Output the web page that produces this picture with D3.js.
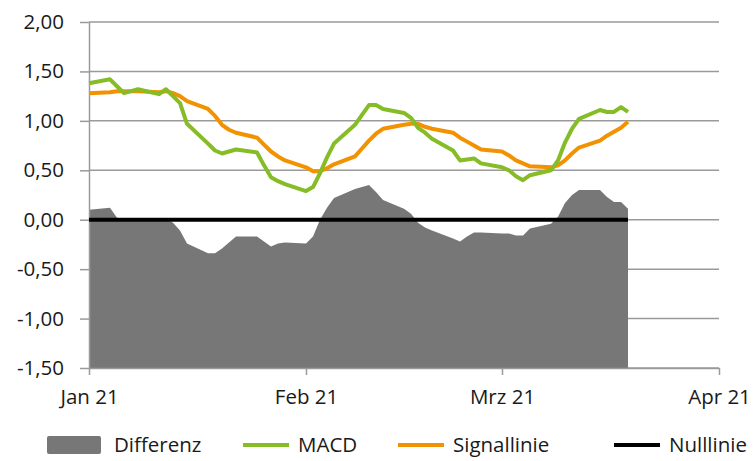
<!DOCTYPE html>
<html>
<head>
<meta charset="utf-8">
<script src="https://cdn.jsdelivr.net/npm/d3@7"></script>
<style>
  body { margin: 0; background: #fff; }
  svg text { font-family: "Open Sans", "Noto Sans", sans-serif; fill: #1a1a1a; }
</style>
</head>
<body>
<svg id="chart" width="753" height="461"></svg>
<script>

// trading days shown on the chart
const dates = [
  "2021-01-01","2021-01-04","2021-01-05","2021-01-06","2021-01-07","2021-01-08",
  "2021-01-11","2021-01-12","2021-01-13","2021-01-14","2021-01-15",
  "2021-01-18","2021-01-19","2021-01-20","2021-01-21","2021-01-22",
  "2021-01-25","2021-01-26","2021-01-27","2021-01-28","2021-01-29",
  "2021-02-01","2021-02-02","2021-02-03","2021-02-04","2021-02-05",
  "2021-02-08","2021-02-09","2021-02-10","2021-02-11","2021-02-12",
  "2021-02-15","2021-02-16","2021-02-17","2021-02-18","2021-02-19",
  "2021-02-22","2021-02-23","2021-02-24","2021-02-25","2021-02-26",
  "2021-03-01","2021-03-02","2021-03-03","2021-03-04","2021-03-05",
  "2021-03-08","2021-03-09","2021-03-10","2021-03-11","2021-03-12",
  "2021-03-15","2021-03-16","2021-03-17","2021-03-18","2021-03-19"
];

const macd = [
  1.38, 1.42, 1.35, 1.28, 1.30, 1.32,
  1.27, 1.32, 1.25, 1.18, 0.97,
  0.77, 0.70, 0.67, 0.69, 0.71,
  0.68, 0.55, 0.43, 0.39, 0.36,
  0.29, 0.33, 0.47, 0.63, 0.77,
  0.96, 1.06, 1.16, 1.16, 1.12,
  1.08, 1.03, 0.93, 0.88, 0.82,
  0.70, 0.60, 0.61, 0.62, 0.57,
  0.53, 0.50, 0.44, 0.40, 0.45,
  0.50, 0.60, 0.78, 0.92, 1.02,
  1.11, 1.09, 1.09, 1.14, 1.09
];

const signal = [
  1.28, 1.29, 1.30, 1.30, 1.30, 1.30,
  1.29, 1.30, 1.28, 1.25, 1.20,
  1.12, 1.05, 0.96, 0.91, 0.88,
  0.83, 0.76, 0.69, 0.64, 0.60,
  0.53, 0.49, 0.49, 0.52, 0.56,
  0.64, 0.72, 0.80, 0.87, 0.92,
  0.96, 0.97, 0.97, 0.94, 0.92,
  0.88, 0.83, 0.79, 0.75, 0.71,
  0.69, 0.65, 0.60, 0.57, 0.54,
  0.53, 0.55, 0.60, 0.67, 0.73,
  0.80, 0.85, 0.89, 0.93, 0.99
];

const differenz = [
  0.10, 0.12, 0.02, 0.00, 0.00, 0.01,
  -0.01, 0.01, -0.03, -0.11, -0.24,
  -0.34, -0.34, -0.29, -0.23, -0.17,
  -0.17, -0.22, -0.27, -0.24, -0.23,
  -0.24, -0.17, 0.00, 0.12, 0.22,
  0.31, 0.33, 0.35, 0.28, 0.20,
  0.11, 0.06, -0.03, -0.08, -0.11,
  -0.19, -0.22, -0.17, -0.13, -0.13,
  -0.14, -0.14, -0.16, -0.16, -0.09,
  -0.04, 0.03, 0.17, 0.25, 0.30,
  0.30, 0.23, 0.18, 0.18, 0.11
];

const xTicks = ["2021-01-01", "2021-02-01", "2021-03-01", "2021-04-01"];
const xTickLabels = ["Jan 21", "Feb 21", "Mrz 21", "Apr 21"];
const yTicks = [-1.5, -1.0, -0.5, 0, 0.5, 1.0, 1.5, 2.0];

const legendItems = ["Differenz", "MACD", "Signallinie", "Nulllinie"];

const colors = { diff: "#777777", macd: "#86bc25", signal: "#f39200", zero: "#000000", grid: "#9a9a9a" };
const fontSize = 20.5;

const parse = d3.timeParse("%Y-%m-%d");
const rows = dates.map((d, i) => ({ date: parse(d), macd: macd[i], signal: signal[i], diff: differenz[i] }));

const svg = d3.select("#chart");

const plotLeft = 89, plotRight = 719, plotTop = 22, plotBottom = 368;

const x = d3.scaleTime()
  .domain([parse(xTicks[0]), parse(xTicks[xTicks.length - 1])])
  .range([plotLeft, plotRight]);

const y = d3.scaleLinear()
  .domain([-1.5, 2.0])
  .range([plotBottom, plotTop]);

const de = d3.formatLocale({ decimal: ",", thousands: ".", grouping: [3], currency: ["", " €"], minus: "-" });
const fmt = de.format(".2f");

// horizontal gridlines
svg.append("g")
  .selectAll("line")
  .data(yTicks)
  .join("line")
    .attr("x1", plotLeft).attr("x2", plotRight)
    .attr("y1", d => y(d)).attr("y2", d => y(d))
    .attr("stroke", colors.grid)
    .attr("stroke-width", 1.5);

// Differenz area
const area = d3.area()
  .x(d => x(d.date))
  .y0(y(-1.5))
  .y1(d => y(d.diff));

svg.append("path")
  .datum(rows)
  .attr("d", area)
  .attr("fill", colors.diff);

// y axis
const yAxis = svg.append("g")
  .attr("transform", `translate(${plotLeft},0)`)
  .call(d3.axisLeft(y).tickValues(yTicks).tickFormat(fmt).tickSize(9).tickSizeOuter(0).tickPadding(16));
yAxis.select(".domain").attr("stroke", colors.grid).attr("stroke-width", 1.5);
yAxis.selectAll(".tick line").attr("stroke", colors.grid).attr("stroke-width", 1.5);
yAxis.selectAll(".tick text").attr("font-size", fontSize).attr("fill", "#1a1a1a");

// x axis
const xAxis = svg.append("g")
  .attr("transform", `translate(0,${plotBottom})`)
  .call(d3.axisBottom(x).tickValues(xTicks.map(parse)).tickFormat((d, i) => xTickLabels[i]).tickSize(7).tickSizeOuter(0).tickPadding(14));
xAxis.select(".domain").attr("stroke", colors.grid).attr("stroke-width", 1.5);
xAxis.selectAll(".tick line").attr("stroke", colors.grid).attr("stroke-width", 1.5);
xAxis.selectAll(".tick text").attr("font-size", fontSize).attr("fill", "#1a1a1a");

// Nulllinie
svg.append("line")
  .attr("x1", x(rows[0].date)).attr("x2", x(rows[rows.length - 1].date))
  .attr("y1", y(0)).attr("y2", y(0))
  .attr("stroke", colors.zero)
  .attr("stroke-width", 4);

const line = key => d3.line().x(d => x(d.date)).y(d => y(d[key]));

svg.append("path")
  .datum(rows)
  .attr("d", line("signal"))
  .attr("fill", "none")
  .attr("stroke", colors.signal)
  .attr("stroke-width", 4)
  .attr("stroke-linejoin", "round");

svg.append("path")
  .datum(rows)
  .attr("d", line("macd"))
  .attr("fill", "none")
  .attr("stroke", colors.macd)
  .attr("stroke-width", 4)
  .attr("stroke-linejoin", "round");

// legend
const legendX = [47, 243, 398, 614];
const legend = svg.append("g").attr("transform", "translate(0,445)");

legend.append("rect")
  .attr("x", legendX[0]).attr("y", -9)
  .attr("width", 54).attr("height", 18)
  .attr("rx", 2)
  .attr("fill", colors.diff);

[colors.macd, colors.signal, colors.zero].forEach((c, i) => {
  legend.append("line")
    .attr("x1", legendX[i + 1]).attr("x2", legendX[i + 1] + 46)
    .attr("y1", 0).attr("y2", 0)
    .attr("stroke", c)
    .attr("stroke-width", 4);
});

legend.selectAll("text")
  .data(legendItems)
  .join("text")
    .attr("x", (d, i) => i === 0 ? legendX[0] + 67 : legendX[i] + 55)
    .attr("y", 0)
    .attr("dy", "0.35em")
    .attr("font-size", fontSize)
    .text(d => d);

</script>
</body>
</html>
